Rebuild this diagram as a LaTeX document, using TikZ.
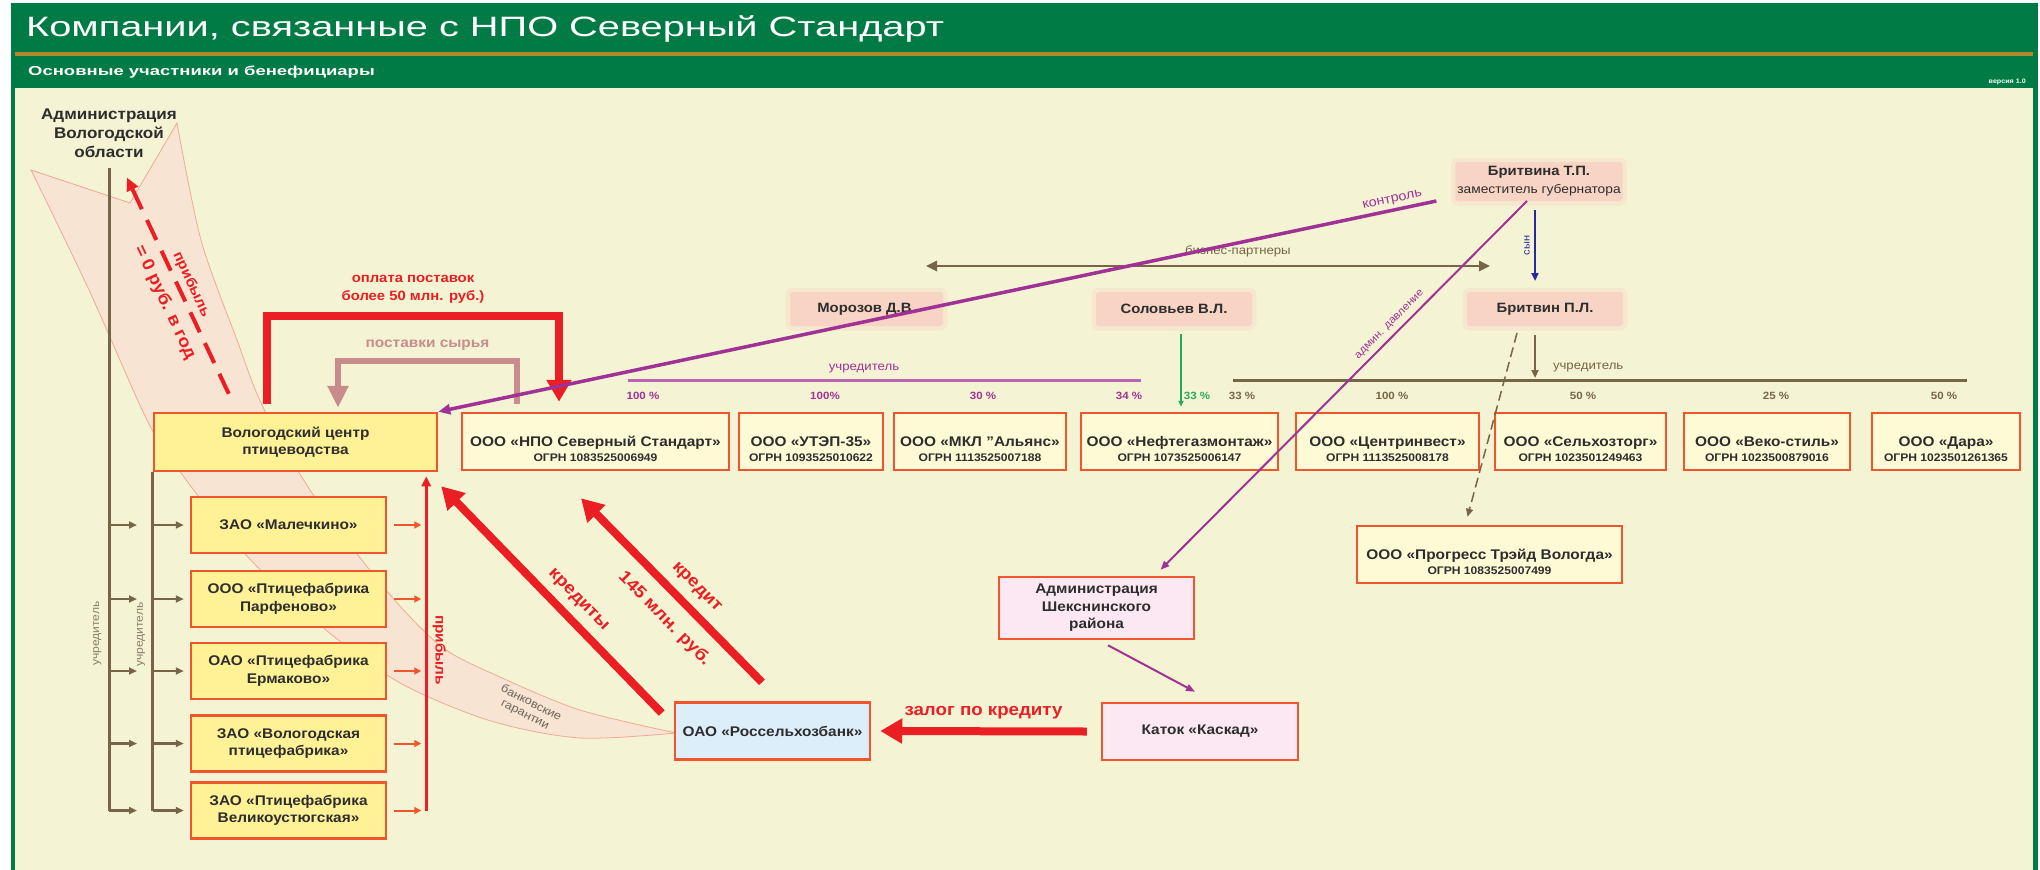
\documentclass[tikz,border=0pt]{standalone}
\usepackage{fontspec}
\setmainfont[FakeStretch=1.1]{Liberation Sans}
\newfontfamily\headfont[FakeStretch=1.42]{Liberation Sans}
\usetikzlibrary{arrows.meta}

\definecolor{hdgreen}{RGB}{0,123,69}
\definecolor{hdgold}{RGB}{180,135,45}
\definecolor{cream}{RGB}{244,244,212}
\definecolor{boxred}{RGB}{240,85,45}
\definecolor{farmfill}{RGB}{255,242,150}
\definecolor{cofill}{RGB}{255,250,214}
\definecolor{pinkfill}{RGB}{252,232,242}
\definecolor{bankfill}{RGB}{220,238,250}
\definecolor{perspink}{RGB}{247,212,196}
\definecolor{ctrlpurple}{RGB}{160,50,150}
\definecolor{fndpurple}{RGB}{190,100,180}
\definecolor{fndbrown}{RGB}{120,100,70}
\definecolor{trunkgray}{RGB}{140,125,105}
\definecolor{payred}{RGB}{235,30,35}
\definecolor{supplyrose}{RGB}{200,140,140}
\definecolor{solgreen}{RGB}{40,170,90}
\definecolor{sonblue}{RGB}{40,40,160}
\definecolor{bandpink}{RGB}{250,218,210}
\definecolor{bandedge}{RGB}{240,170,150}
\definecolor{bandgray}{RGB}{110,100,90}
\definecolor{txtgray}{RGB}{45,45,45}

\newcommand{\fsz}[2]{\fontsize{#1}{#2}\selectfont}
\newcommand{\comp}[2]{\rule{0pt}{26pt}#1\\{\fsz{11}{12}ОГРН #2}}

\tikzset{
  cobox/.style={draw=boxred, line width=2.5pt, fill=cofill, text=txtgray, align=center,
    inner sep=2pt, minimum height=57, font=\bfseries\fsz{14}{15}},
  farmbox/.style={cobox, fill=farmfill, font=\bfseries\fsz{14}{17.5}},
  pinkbox/.style={farmbox, fill=pinkfill},
  person/.style={fill=perspink, draw=perspink, draw opacity=0.35, line width=9pt,
    outer sep=0pt, rounded corners=3pt, text=txtgray, align=center, inner sep=2pt,
    font=\bfseries\fsz{13.5}{18}},
  pct/.style={font=\bfseries\fsz{10.5}{12}},
  lbl/.style={inner sep=0pt, font=\fsz{12}{13}},
  fnd/.style={draw=fndbrown, line width=2.5pt, -{Triangle[length=8pt,width=7pt]}},
  trunk/.style={draw=fndbrown, line width=3pt},
  tinyred/.style={draw=boxred, line width=2pt, -{Triangle[length=7pt,width=7pt]}},
  bigred/.style={draw=payred, line width=8pt, -{Triangle[length=22pt,width=24pt]}},
  redlbl/.style={inner sep=0pt, text=payred, font=\bfseries\fsz{17}{19}},
  supply/.style={draw=supplyrose, line width=6pt, -{Triangle[length=22pt,width=20pt]}},
  ctrl/.style={draw=ctrlpurple, line width=3.5pt, -{Triangle[length=12pt,width=10pt]}},
  thinpurple/.style={draw=ctrlpurple, line width=2pt, -{Triangle[length=9pt,width=7pt]}},
  dashred/.style={draw=payred, line width=4pt, dash pattern=on 22pt off 12pt, -{Triangle[length=13pt,width=12pt]}}
}

\begin{document}
\begin{tikzpicture}[x=1pt,y=-1pt]
\useasboundingbox (0,0) rectangle (2040,870);
\fill[white] (0,0) rectangle (2040,870);
\fill[hdgreen] (11,3) rectangle (2038,870);
\fill[cream] (15,88) rectangle (2033,870);
\draw[hdgold, line width=3.5pt] (15,54) -- (2033,54);
\node[anchor=west, inner sep=0pt, text=white, font=\headfont\fsz{28}{30}] (title) at (26,29) {Компании, связанные с НПО Северный Стандарт};
\node[anchor=west, inner sep=0pt, text=white, font=\headfont\bfseries\fsz{13}{15}] (subtitle) at (28,72) {Основные участники и бенефициары};
\node[anchor=east, inner sep=0pt, text=white, font=\bfseries\fsz{6.5}{7}] (version) at (2026,82) {версия 1.0};

\filldraw[fill=bandpink, fill opacity=0.6, draw=bandedge, line width=0.8pt]
  (31,170) -- (130,203) -- (177,123)
  -- plot[smooth] coordinates {(177,123) (201,240) (237,340) (263,407) (312,493) (386,590) (442,647) (500,677) (580,710) (676,733)}
  -- plot[smooth] coordinates {(676,733) (580,738) (491,721) (402,684) (326,630) (246,555) (181,473) (147,420) (89,290) (31,170)}
  -- cycle;
\node[rotate=-27, align=center, text=bandgray, font=\fsz{11.5}{13}] (guar) at (528,709) {банковские\\гарантии};

\node[align=center, inner sep=0pt, text=txtgray, font=\bfseries\fsz{15.5}{19}] (adm) at (109,133) {Администрация\\Вологодской\\области};

\node[farmbox, minimum width=283, minimum height=58] (vcp) at (295.5,442) {Вологодский центр\\птицеводства};
\node[farmbox, minimum width=195, minimum height=56] (m1) at (288.5,525) {ЗАО «Малечкино»};
\node[farmbox, minimum width=195, minimum height=56] (m2) at (288.5,599) {ООО «Птицефабрика\\Парфеново»};
\node[farmbox, minimum width=195, minimum height=56] (m3) at (288.5,671) {ОАО «Птицефабрика\\Ермаково»};
\node[farmbox, minimum width=195, minimum height=56] (m4) at (288.5,743.5) {ЗАО «Вологодская\\птицефабрика»};
\node[farmbox, minimum width=195, minimum height=56] (m5) at (288.5,810.5) {ЗАО «Птицефабрика\\Великоустюгская»};

\node[cobox, minimum width=267] (npo) at (595.5,441.5) {\comp{ООО «НПО Северный Стандарт»}{1083525006949}};
\node[cobox, minimum width=144] (utep) at (811,441.5) {\comp{ООО «УТЭП-35»}{1093525010622}};
\node[cobox, minimum width=172] (mkl) at (980,441.5) {\comp{ООО «МКЛ "Альянс»}{1113525007188}};
\node[cobox, minimum width=197] (neft) at (1179.5,441.5) {\comp{ООО «Нефтегазмонтаж»}{1073525006147}};
\node[cobox, minimum width=183] (centr) at (1387.5,441.5) {\comp{ООО «Центринвест»}{1113525008178}};
\node[cobox, minimum width=171] (selh) at (1580.5,441.5) {\comp{ООО «Сельхозторг»}{1023501249463}};
\node[cobox, minimum width=166] (veko) at (1767,441.5) {\comp{ООО «Веко-стиль»}{1023500879016}};
\node[cobox, minimum width=148] (dara) at (1946,441.5) {\comp{ООО «Дара»}{1023501261365}};
\node[cobox, minimum width=265] (progress) at (1489.5,554.5) {\comp{ООО «Прогресс Трэйд Вологда»}{1083525007499}};

\node[pinkbox, minimum width=195, minimum height=62] (ashex) at (1096.5,608) {Администрация\\Шекснинского\\района};
\node[pinkbox, minimum width=196] (katok) at (1200,731.5) {Каток «Каскад»};
\node[farmbox, fill=bankfill, minimum width=195] (bank) at (772.5,731) {ОАО «Россельхозбанк»};

\node[person, minimum width=153, minimum height=34] (moroz) at (866.5,309) {Морозов Д.В.};
\node[person, minimum width=156, minimum height=34] (solov) at (1174,309) {Соловьев В.Л.};
\node[person, minimum width=154, minimum height=39] (britvina) at (1539,181.5) {Бритвина Т.П.\\{\mdseries\fsz{12.5}{14}заместитель губернатора}};
\node[person, minimum width=156, minimum height=34] (britvin) at (1545,309) {Бритвин П.Л.};

\node[pct, text=ctrlpurple] (p1) at (643,396) {100 \%};
\node[pct, text=ctrlpurple] (p2) at (825,396) {100\%};
\node[pct, text=ctrlpurple] (p3) at (983,396) {30 \%};
\node[pct, text=ctrlpurple] (p4) at (1129,396) {34 \%};
\node[pct, text=solgreen] (p5) at (1197,396) {33 \%};
\node[pct, text=fndbrown] (p6) at (1242,396) {33 \%};
\node[pct, text=fndbrown] (p7) at (1392,396) {100 \%};
\node[pct, text=fndbrown] (p8) at (1583,396) {50 \%};
\node[pct, text=fndbrown] (p9) at (1776,396) {25 \%};
\node[pct, text=fndbrown] (p10) at (1944,396) {50 \%};

\coordinate (pf1) at (628,380);
\coordinate (pf2) at (1141,380);
\coordinate (bf1) at (1233,380);
\coordinate (bf2) at (1967,380);
\coordinate (bp1) at (926,266);
\coordinate (bp2) at (1490,266);
\draw[draw=fndpurple, line width=3pt] (pf1) -- (pf2) node[lbl, pos=0.46, above=6pt, text=ctrlpurple] {учредитель};
\draw[trunk] (bf1) -- (bf2);
\draw[draw=fndbrown, line width=2.5pt, {Triangle[length=11pt,width=10pt]}-{Triangle[length=11pt,width=10pt]}] (bp1) -- (bp2) node[lbl, pos=0.553, above=8pt, text=fndbrown] {бизнес-партнеры};

\draw[trunk] ([yshift=-10pt]adm.south) -- (adm.south |- m5.west) node[lbl, pos=0.725, rotate=90, anchor=south, inner sep=6pt, text=trunkgray, font=\fsz{11}{12}] {учредитель};
\draw[trunk] (vcp.south west) -- (vcp.south west |- m5.west) node[lbl, pos=0.48, rotate=90, anchor=south, inner sep=6pt, text=trunkgray, font=\fsz{11}{12}] {учредитель};
\foreach \b in {m1,m2,m3,m4,m5} {
  \draw[fnd] (adm.south |- \b.west) -- ++(28,0);
  \draw[fnd] (vcp.south west |- \b.west) -- ([xshift=-6pt]\b.west);
  \draw[tinyred] ([xshift=7pt]\b.east) -- ([xshift=34pt]\b.east);
}
\draw[draw=payred, line width=3pt, -{Triangle[length=10pt,width=9pt]}] ([xshift=39pt]m5.east) -- ([xshift=-12pt,yshift=-4pt]vcp.south east) node[pos=0.48, rotate=-90, anchor=south, inner sep=5pt, text=payred, font=\bfseries\fsz{14}{15}] {прибыль};

\draw[dashred] ([xshift=76pt,yshift=18pt]vcp.north west) -- ([xshift=18pt,yshift=-20pt]adm.south)
  node[redlbl, sloped, pos=0.48, above=4pt, font=\bfseries\fsz{14}{15}] {прибыль}
  node[redlbl, sloped, pos=0.46, below=9pt] {= 0 руб. в год};

\draw[bigred] ([xshift=-28.5pt,yshift=8pt]vcp.north) |- ([xshift=-36.5pt,yshift=96pt]npo.north)
  node[redlbl, pos=0.75, above=8pt, align=center, font=\bfseries\fsz{13.5}{18}] {оплата поставок\\более 50 млн. руб.)}
  -- ([xshift=-36.5pt,yshift=10pt]npo.north);
\draw[supply] ([xshift=-78.5pt,yshift=8pt]npo.north) |- ([xshift=42.5pt,yshift=51pt]vcp.north)
  node[pos=0.75, above=7pt, inner sep=0pt, text=supplyrose, font=\bfseries\fsz{14}{15}] {поставки сырья}
  -- ([xshift=42.5pt,yshift=4pt]vcp.north);

\draw[bigred] ([xshift=-12pt,yshift=18pt]bank.west) -- ([xshift=3pt,yshift=-14pt]vcp.south east)
  node[redlbl, sloped, pos=0.44, above=8pt] {кредиты};
\draw[bigred] ([xshift=-10.5pt,yshift=19pt]bank.north) -- ([xshift=-14.5pt,yshift=-27pt]npo.south)
  node[redlbl, sloped, pos=0.44, above=9pt] {кредит}
  node[redlbl, sloped, pos=0.44, below=13pt] {145 млн. руб.};
\draw[bigred] ([xshift=-14pt]katok.west) -- ([xshift=9pt]bank.east)
  node[redlbl, midway, above=8pt] {залог по кредиту};

\draw[ctrl] ([xshift=-19pt]britvina.south west) -- (vcp.north east)
  node[lbl, sloped, pos=0.042, above=3pt, text=ctrlpurple, font=\fsz{13}{14}] {контроль};
\draw[thinpurple] ([xshift=-12pt]britvina.south) -- ([xshift=64pt,yshift=6pt]ashex.north)
  node[lbl, sloped, pos=0.355, above=5pt, text=ctrlpurple, font=\fsz{10.5}{12}] {админ. давление};
\draw[thinpurple] ([xshift=11.5pt,yshift=-5pt]ashex.south) -- ([xshift=-5pt,yshift=10pt]katok.north);

\draw[draw=sonblue, line width=2.5pt, -{Triangle[length=8pt,width=7pt]}] ([xshift=-4pt,yshift=-9pt]britvina.south) -- ([xshift=-10pt,yshift=11pt]britvin.north)
  node[lbl, midway, rotate=90, anchor=south, inner sep=4pt, text=sonblue, font=\fsz{10}{11}] {сын};
\draw[draw=solgreen, line width=2pt, -{Triangle[length=6pt,width=5pt]}] ([xshift=7pt,yshift=-8pt]solov.south) -- ([xshift=1.5pt,yshift=5pt]neft.north);
\draw[fnd, line width=2pt] ([xshift=-10pt,yshift=-9pt]britvin.south) -- ([xshift=-10pt,yshift=-52pt]britvin.south)
  node[lbl, at end, anchor=south west, xshift=17pt, yshift=5pt, text=fndbrown] {учредитель};
\draw[fnd, line width=1.5pt, dash pattern=on 10pt off 5pt] ([xshift=-28pt,yshift=-7pt]britvin.south) -- ([xshift=-22pt,yshift=8pt]progress.north);
\end{tikzpicture}
\end{document}
